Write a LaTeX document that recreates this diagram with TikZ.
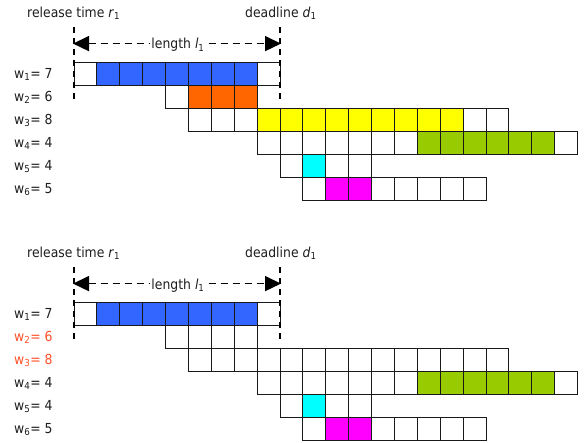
\documentclass[tikz,border=0pt]{standalone}
\usepackage{fontspec}
\setmainfont{DejaVu Sans}[FakeStretch=0.9]
\usetikzlibrary{arrows.meta}
\definecolor{cblue}{RGB}{51,102,255}
\definecolor{corange}{RGB}{255,102,0}
\definecolor{cyellow}{RGB}{255,255,0}
\definecolor{cgreen}{RGB}{153,204,0}
\definecolor{ccyan}{RGB}{0,255,255}
\definecolor{cmagenta}{RGB}{255,0,255}
\definecolor{cred}{RGB}{255,80,40}
\definecolor{ctext}{RGB}{30,30,30}
\newcommand\cellrow[4]{%
  \foreach \cc [count=\i from 0] in {#4} {%
    \pgfmathsetmacro\xa{74+22.89*(#3+\i)}%
    \pgfmathsetmacro\ya{#1+23*(#2-1)}%
    \filldraw[cellst, fill=\cc] (\xa,\ya) rectangle ++(22.89,23);
  }}
\begin{document}
\begin{tikzpicture}[x=1pt,y=-1pt,
  cellst/.style={draw=black!90, line width=0.9pt},
  lab/.style={font=\fontsize{13.8}{16}\selectfont, text=ctext, inner sep=0pt, anchor=base west},
  deadl/.style={draw=black, line width=1.6pt, dash pattern=on 6pt off 5pt},
  lenarrow/.style={draw=black, line width=1.6pt, dash pattern=on 7pt off 5pt,
     {Triangle[length=16pt,width=15pt]}-{Triangle[length=16pt,width=15pt]}, shorten <=-1pt, shorten >=-1pt},
  lenlab/.style={font=\fontsize{13.8}{16}\selectfont, text=ctext, fill=white, inner sep=1pt, anchor=base}]
\useasboundingbox (0,0) rectangle (585,443);
% ---------------- top panel ----------------
\cellrow{62.7}{1}{0}{white,cblue,cblue,cblue,cblue,cblue,cblue,cblue,white}
\cellrow{62.7}{2}{4}{white,corange,corange,corange}
\cellrow{62.7}{3}{5}{white,white,white,cyellow,cyellow,cyellow,cyellow,cyellow,cyellow,cyellow,cyellow,cyellow,white,white}
\cellrow{62.7}{4}{8}{white,white,white,white,white,white,white,cgreen,cgreen,cgreen,cgreen,cgreen,cgreen,white}
\cellrow{62.7}{5}{9}{white,ccyan,white,white}
\cellrow{62.7}{6}{10}{white,cmagenta,cmagenta,white,white,white,white,white}
\node[lab] (rela) at (27,17.5) {release time \textit{r}\textsubscript{1}};
\node[lab] (deada) at (245,17.5) {deadline \textit{d}\textsubscript{1}};
\coordinate (rta) at (74,27);
\coordinate (rba) at (74,101);
\coordinate (dta) at (280,27);
\coordinate (dba) at (280,101);
\draw[deadl] (rta) -- (rba);
\draw[deadl] (dta) -- (dba);
\coordinate (lla) at (74,43.6);
\coordinate (lra) at (280,43.6);
\draw[lenarrow] (lla) -- (lra);
\node[lenlab] (lena) at (178,49) {length \textit{l}\textsubscript{1}};
\node[lab] (w1a) at (14,78.5) {w\textsubscript{1}= 7};
\node[lab] (w2a) at (14,101.5) {w\textsubscript{2}= 6};
\node[lab] (w3a) at (14,124.5) {w\textsubscript{3}= 8};
\node[lab] (w4a) at (14,147.5) {w\textsubscript{4}= 4};
\node[lab] (w5a) at (14,170.5) {w\textsubscript{5}= 4};
\node[lab] (w6a) at (14,193.5) {w\textsubscript{6}= 5};
% ---------------- bottom panel ----------------
\cellrow{302.7}{1}{0}{white,cblue,cblue,cblue,cblue,cblue,cblue,cblue,white}
\cellrow{302.7}{2}{4}{white,white,white,white}
\cellrow{302.7}{3}{5}{white,white,white,white,white,white,white,white,white,white,white,white,white,white}
\cellrow{302.7}{4}{8}{white,white,white,white,white,white,white,cgreen,cgreen,cgreen,cgreen,cgreen,cgreen,white}
\cellrow{302.7}{5}{9}{white,ccyan,white,white}
\cellrow{302.7}{6}{10}{white,cmagenta,cmagenta,white,white,white,white,white}
\node[lab] (relb) at (27,257.5) {release time \textit{r}\textsubscript{1}};
\node[lab] (deadb) at (245,257.5) {deadline \textit{d}\textsubscript{1}};
\coordinate (rtb) at (74,267);
\coordinate (rbb) at (74,341);
\coordinate (dtb) at (280,267);
\coordinate (dbb) at (280,341);
\draw[deadl] (rtb) -- (rbb);
\draw[deadl] (dtb) -- (dbb);
\coordinate (llb) at (74,283.6);
\coordinate (lrb) at (280,283.6);
\draw[lenarrow] (llb) -- (lrb);
\node[lenlab] (lenb) at (178,289) {length \textit{l}\textsubscript{1}};
\node[lab] (w1b) at (14,318.5) {w\textsubscript{1}= 7};
\node[lab, text=cred] (w2b) at (14,341.5) {w\textsubscript{2}= 6};
\node[lab, text=cred] (w3b) at (14,364.5) {w\textsubscript{3}= 8};
\node[lab] (w4b) at (14,387.5) {w\textsubscript{4}= 4};
\node[lab] (w5b) at (14,410.5) {w\textsubscript{5}= 4};
\node[lab] (w6b) at (14,433.5) {w\textsubscript{6}= 5};
\end{tikzpicture}
\end{document}
